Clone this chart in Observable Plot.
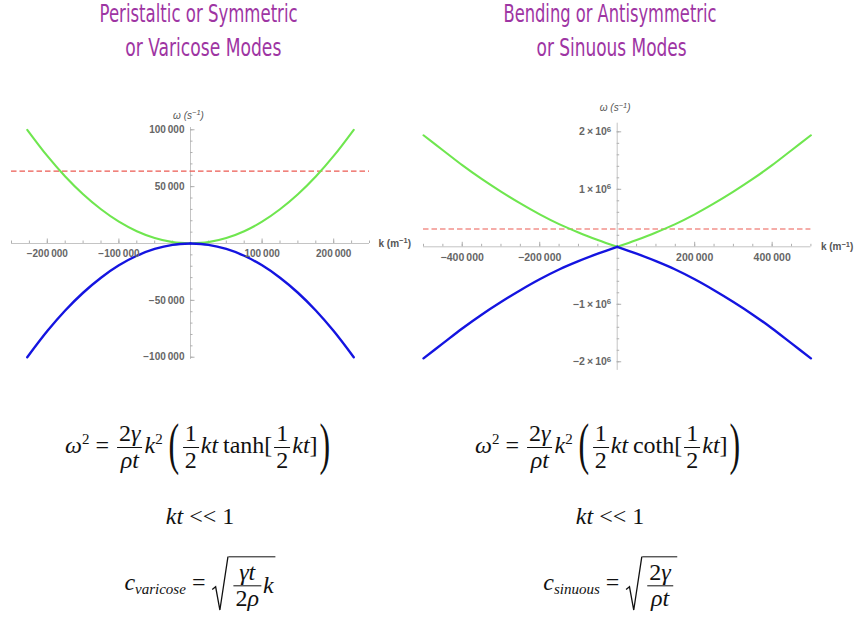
<!DOCTYPE html>
<html>
<head>
<meta charset="utf-8">
<script src="https://cdn.jsdelivr.net/npm/d3@7"></script>
<script src="https://cdn.jsdelivr.net/npm/@observablehq/plot@0.6"></script>
<style>
  html, body { margin: 0; padding: 0; background: #fff; }
  #page { position: relative; width: 863px; height: 620px; overflow: hidden; background: #fff; }
  .title { position: absolute; font-family: "Liberation Sans Narrow", "DejaVu Sans Condensed", sans-serif; font-weight: normal; font-size: 25px; line-height: 28px; color: #9e35a3; white-space: nowrap; transform-origin: center center; }
  .plotbox { position: absolute; }
  .eq { position: absolute; transform: translate(-50%, -50%); font-family: "Liberation Serif", "DejaVu Serif", serif; font-size: 24px; color: #111; white-space: nowrap; }
  .eq i { font-style: italic; }
  .frac { display: inline-flex; flex-direction: column; vertical-align: middle; text-align: center; margin: 0 2px; }
  .frac > span { line-height: 1.05; padding: 0 2px; }
  .frac > span:first-child { border-bottom: 1.1px solid #111; }
  .big { display: inline-block; font-size: 58px; line-height: 1; transform: scaleX(0.55); vertical-align: middle; margin: 0 -3px; position: relative; top: -3px; }
  .eq sup { font-size: 15px; vertical-align: 0.55em; line-height: 0; }
  .eq sub { font-size: 15px; vertical-align: -0.3em; line-height: 0; }
  .sqrt { display: inline-flex; vertical-align: middle; align-items: stretch; }
  .radwrap { position: relative; width: 17px; }
  .radwrap svg { position: absolute; left: 0; top: 0; width: 100%; height: 100%; overflow: visible; }
  .under { border-top: 1.2px solid #111; padding: 3px 2px 0 3px; display: inline-flex; align-items: center; }
</style>
</head>
<body>
<div id="page">
  <div class="title" id="t1">Peristaltic or Symmetric</div>
  <div class="title" id="t2">or Varicose Modes</div>
  <div class="title" id="t3">Bending or Antisymmetric</div>
  <div class="title" id="t4">or Sinuous Modes</div>
  <div class="plotbox" id="leftPlot" style="left:0px; top:100px;"></div>
  <div class="plotbox" id="rightPlot" style="left:410px; top:95px;"></div>

  <div class="eq" style="left:198px; top:447px;">
    <i>ω</i><sup>2</sup> = <span class="frac"><span>2<i>γ</i></span><span><i>ρt</i></span></span><i>k</i><sup>2</sup>&thinsp;<span class="big">(</span><span class="frac"><span>1</span><span>2</span></span><i>kt</i>&thinsp;tanh[<span class="frac"><span>1</span><span>2</span></span><i>kt</i>]<span class="big">)</span>
  </div>
  <div class="eq" style="left:608px; top:447px;">
    <i>ω</i><sup>2</sup> = <span class="frac"><span>2<i>γ</i></span><span><i>ρt</i></span></span><i>k</i><sup>2</sup>&thinsp;<span class="big">(</span><span class="frac"><span>1</span><span>2</span></span><i>kt</i>&thinsp;coth[<span class="frac"><span>1</span><span>2</span></span><i>kt</i>]<span class="big">)</span>
  </div>
  <div class="eq" style="left:200px; top:516px;"><i>kt</i> &lt;&lt; 1</div>
  <div class="eq" style="left:610px; top:516px;"><i>kt</i> &lt;&lt; 1</div>
  <div class="eq" style="left:200px; top:584px;">
    <i>c</i><sub><i>varicose</i></sub> = <span class="sqrt"><span class="radwrap"><svg viewBox="0 0 20 100" preserveAspectRatio="none"><path d="M1,60 L5,55 L10,97 L19.5,0.5" fill="none" stroke="#111" stroke-width="1.3" vector-effect="non-scaling-stroke"/></svg></span><span class="under"><span class="frac"><span><i>γt</i></span><span>2<i>ρ</i></span></span><i>k</i></span></span>
  </div>
  <div class="eq" style="left:610px; top:584px;">
    <i>c</i><sub><i>sinuous</i></sub> = <span class="sqrt"><span class="radwrap"><svg viewBox="0 0 20 100" preserveAspectRatio="none"><path d="M1,60 L5,55 L10,97 L19.5,0.5" fill="none" stroke="#111" stroke-width="1.3" vector-effect="non-scaling-stroke"/></svg></span><span class="under"><span class="frac"><span>2<i>γ</i></span><span><i>ρt</i></span></span></span></span>
  </div>
</div>

<script>
// ---------- Data: varicose (left) ----------
const leftK     = [-228000, -200000, -175000, -150000, -125000, -100000, -75000, -50000, -25000, 0, 25000, 50000, 75000, 100000, 125000, 150000, 175000, 200000, 228000];
const leftGreen = [100000, 77000, 58900, 43300, 30100, 19200, 10800, 4800, 1200, 0, 1200, 4800, 10800, 19200, 30100, 43300, 58900, 77000, 100000];
const leftBlue  = [-100000, -77000, -58900, -43300, -30100, -19200, -10800, -4800, -1200, 0, -1200, -4800, -10800, -19200, -30100, -43300, -58900, -77000, -100000];
const leftCutoff = 63700;
const leftXTickLabels = [-200000, -100000, 100000, 200000];
const leftYTickLabels = [100000, 50000, -50000, -100000];
const leftXMinor = [-250000,-225000,-200000,-175000,-150000,-125000,-100000,-75000,-50000,-25000,25000,50000,75000,100000,125000,150000,175000,200000,225000,250000];
const leftYMinor = [-100000,-90000,-80000,-70000,-60000,-50000,-40000,-30000,-20000,-10000,10000,20000,30000,40000,50000,60000,70000,80000,90000,100000];

// ---------- Data: sinuous (right) ----------
const rightK     = [-500000, -450000, -400000, -350000, -300000, -250000, -200000, -150000, -100000, -50000, 0, 50000, 100000, 150000, 200000, 250000, 300000, 350000, 400000, 450000, 500000];
const rightGreen = [1940000, 1680000, 1420000, 1180000, 960000, 755000, 565000, 395000, 250000, 120000, 0, 120000, 250000, 395000, 565000, 755000, 960000, 1180000, 1420000, 1680000, 1940000];
const rightBlue  = [-1940000, -1680000, -1420000, -1180000, -960000, -755000, -565000, -395000, -250000, -120000, 0, -120000, -250000, -395000, -565000, -755000, -960000, -1180000, -1420000, -1680000, -1940000];
const rightCutoff = 310000;
const rightXTickLabels = [-400000, -200000, 200000, 400000];
const rightYTickLabels = [2000000, 1000000, -1000000, -2000000];
const rightYTickText = ["2\u2009×\u200910^6", "1\u2009×\u200910^6", "\u22121\u2009×\u200910^6", "\u22122\u2009×\u200910^6"];
const rightXMinor = [-500000,-450000,-400000,-350000,-300000,-250000,-200000,-150000,-100000,-50000,50000,100000,150000,200000,250000,300000,350000,400000,450000,500000];
const rightYMinor = [-2000000,-1800000,-1600000,-1400000,-1200000,-1000000,-800000,-600000,-400000,-200000,200000,400000,600000,800000,1000000,1200000,1400000,1600000,1800000,2000000];

const GREEN = "#6fe64f", BLUE = "#1414e0", RED = "#ec5a52", AXIS = "#c4c4c4", TICK = "#b0b0b0", LABEL = "#666666";

function fmtThousands(v) {
  const s = Math.abs(v).toString().replace(/\B(?=(\d{3})+(?!\d))/g, "\u2009");
  return (v < 0 ? "\u2212" : "") + s;
}

function branches(ks, vs) {
  const out = [];
  ks.forEach((k, i) => {
    if (k <= 0) out.push({k, w: vs[i], b: "L"});
    if (k >= 0) out.push({k, w: vs[i], b: "R"});
  });
  return out;
}

function makePlot(cfg) {
  const majorX = cfg.xLabels, majorY = cfg.yLabels;
  return Plot.plot({
    width: cfg.width, height: cfg.height,
    marginLeft: cfg.ml, marginRight: cfg.mr, marginTop: cfg.mt, marginBottom: cfg.mb,
    x: {domain: cfg.xDomain, axis: null},
    y: {domain: cfg.yDomain, axis: null},
    style: {fontFamily: "'Liberation Sans', Arial, sans-serif", background: "transparent", overflow: "visible"},
    marks: [
      Plot.ruleY([0], {stroke: AXIS, strokeWidth: 1}),
      Plot.ruleX([0], {stroke: AXIS, strokeWidth: 1}),
      Plot.ruleX(cfg.xMinor, {x: d => d, y1: 0, y2: 0, insetBottom: 2.5, stroke: TICK}),
      Plot.ruleX(majorX, {x: d => d, y1: 0, y2: 0, insetBottom: 4.5, stroke: TICK}),
      Plot.ruleY(cfg.yMinor, {y: d => d, x1: 0, x2: 0, insetRight: -2.5, stroke: TICK}),
      Plot.ruleY(majorY, {y: d => d, x1: 0, x2: 0, insetRight: -4.5, stroke: TICK}),
      Plot.ruleY([cfg.cutoff], {stroke: RED, strokeWidth: 1.2, strokeDasharray: "5.5,3"}),
      Plot.line(branches(cfg.k, cfg.green), {x: "k", y: "w", z: "b", stroke: GREEN, strokeWidth: 2.1, curve: "catmull-rom"}),
      Plot.line(branches(cfg.k, cfg.blue), {x: "k", y: "w", z: "b", stroke: BLUE, strokeWidth: 2.4, curve: "catmull-rom"}),
      Plot.text(majorX, {x: d => d, y: 0, text: d => fmtThousands(d), dy: cfg.xLabelDy, fill: LABEL, fontSize: cfg.fs, fontWeight: "bold"}),
      Plot.text(majorY, {x: 0, y: d => d, text: (d, i) => cfg.yText ? cfg.yText[i] : fmtThousands(d), dx: -6, textAnchor: "end", fill: LABEL, fontSize: cfg.fs, fontWeight: "bold"}),
      Plot.text(["ω (s^−1)"], {x: 0, y: cfg.yDomain[1], text: d => d, dy: cfg.wDy, dx: -2, fill: "#555", fontSize: 10, fontStyle: "italic"}),
      Plot.text(["k (m^−1)"], {x: cfg.xDomain[1], y: 0, text: d => d, dx: cfg.kDx, textAnchor: "start", fill: "#555", fontSize: 10, fontWeight: "bold"})
    ]
  });
}

// turn "a^b" inside SVG text into a real superscript tspan
function superscripts(svg) {
  svg.querySelectorAll("text").forEach(t => {
    const s = t.textContent;
    const m = s.match(/^(.*?)\^([−\-]?\d+)(.*)$/);
    if (!m) return;
    t.textContent = "";
    const ns = "http://www.w3.org/2000/svg";
    const a = document.createElementNS(ns, "tspan"); a.textContent = m[1];
    const b = document.createElementNS(ns, "tspan"); b.textContent = m[2];
    b.setAttribute("dy", "-0.45em"); b.setAttribute("font-size", "0.75em");
    const c = document.createElementNS(ns, "tspan"); c.textContent = m[3];
    c.setAttribute("dy", "0.34em");
    t.appendChild(a); t.appendChild(b); if (m[3]) t.appendChild(c);
  });
}

const leftSvg = makePlot({
  width: 420, height: 280, ml: 11, mr: 51, mt: 27, mb: 21,
  xDomain: [-250000, 250000], yDomain: [-102000, 102000],
  k: leftK, green: leftGreen, blue: leftBlue, cutoff: leftCutoff,
  xLabels: leftXTickLabels, yLabels: leftYTickLabels,
  xMinor: leftXMinor, yMinor: leftYMinor,
  xLabelDy: 10, fs: 10, wDy: -12, kDx: 9
});
superscripts(leftSvg);
document.getElementById("leftPlot").appendChild(leftSvg);

const rightSvg = makePlot({
  width: 453, height: 285, ml: 13, mr: 52.6, mt: 27.7, mb: 10.1,
  xDomain: [-500000, 500000], yDomain: [-2150000, 2150000],
  k: rightK, green: rightGreen, blue: rightBlue, cutoff: rightCutoff,
  xLabels: rightXTickLabels, yLabels: rightYTickLabels, yText: rightYTickText,
  xMinor: rightXMinor, yMinor: rightYMinor,
  xLabelDy: 11, fs: 10.5, wDy: -15, kDx: 10
});
superscripts(rightSvg);
document.getElementById("rightPlot").appendChild(rightSvg);

// ---------- Titles: position and condense to the reference widths ----------
const titleLayout = [
  {id: "t1", cx: 199, top: 0, w: 198},
  {id: "t2", cx: 203, top: 34, w: 156},
  {id: "t3", cx: 610, top: 0, w: 213},
  {id: "t4", cx: 612, top: 34, w: 150}
];
titleLayout.forEach(t => {
  const el = document.getElementById(t.id);
  const nat = el.getBoundingClientRect().width;
  el.style.left = (t.cx - nat / 2) + "px";
  el.style.top = t.top + "px";
  el.style.transform = `scaleX(${t.w / nat})`;
});
</script>
</body>
</html>
